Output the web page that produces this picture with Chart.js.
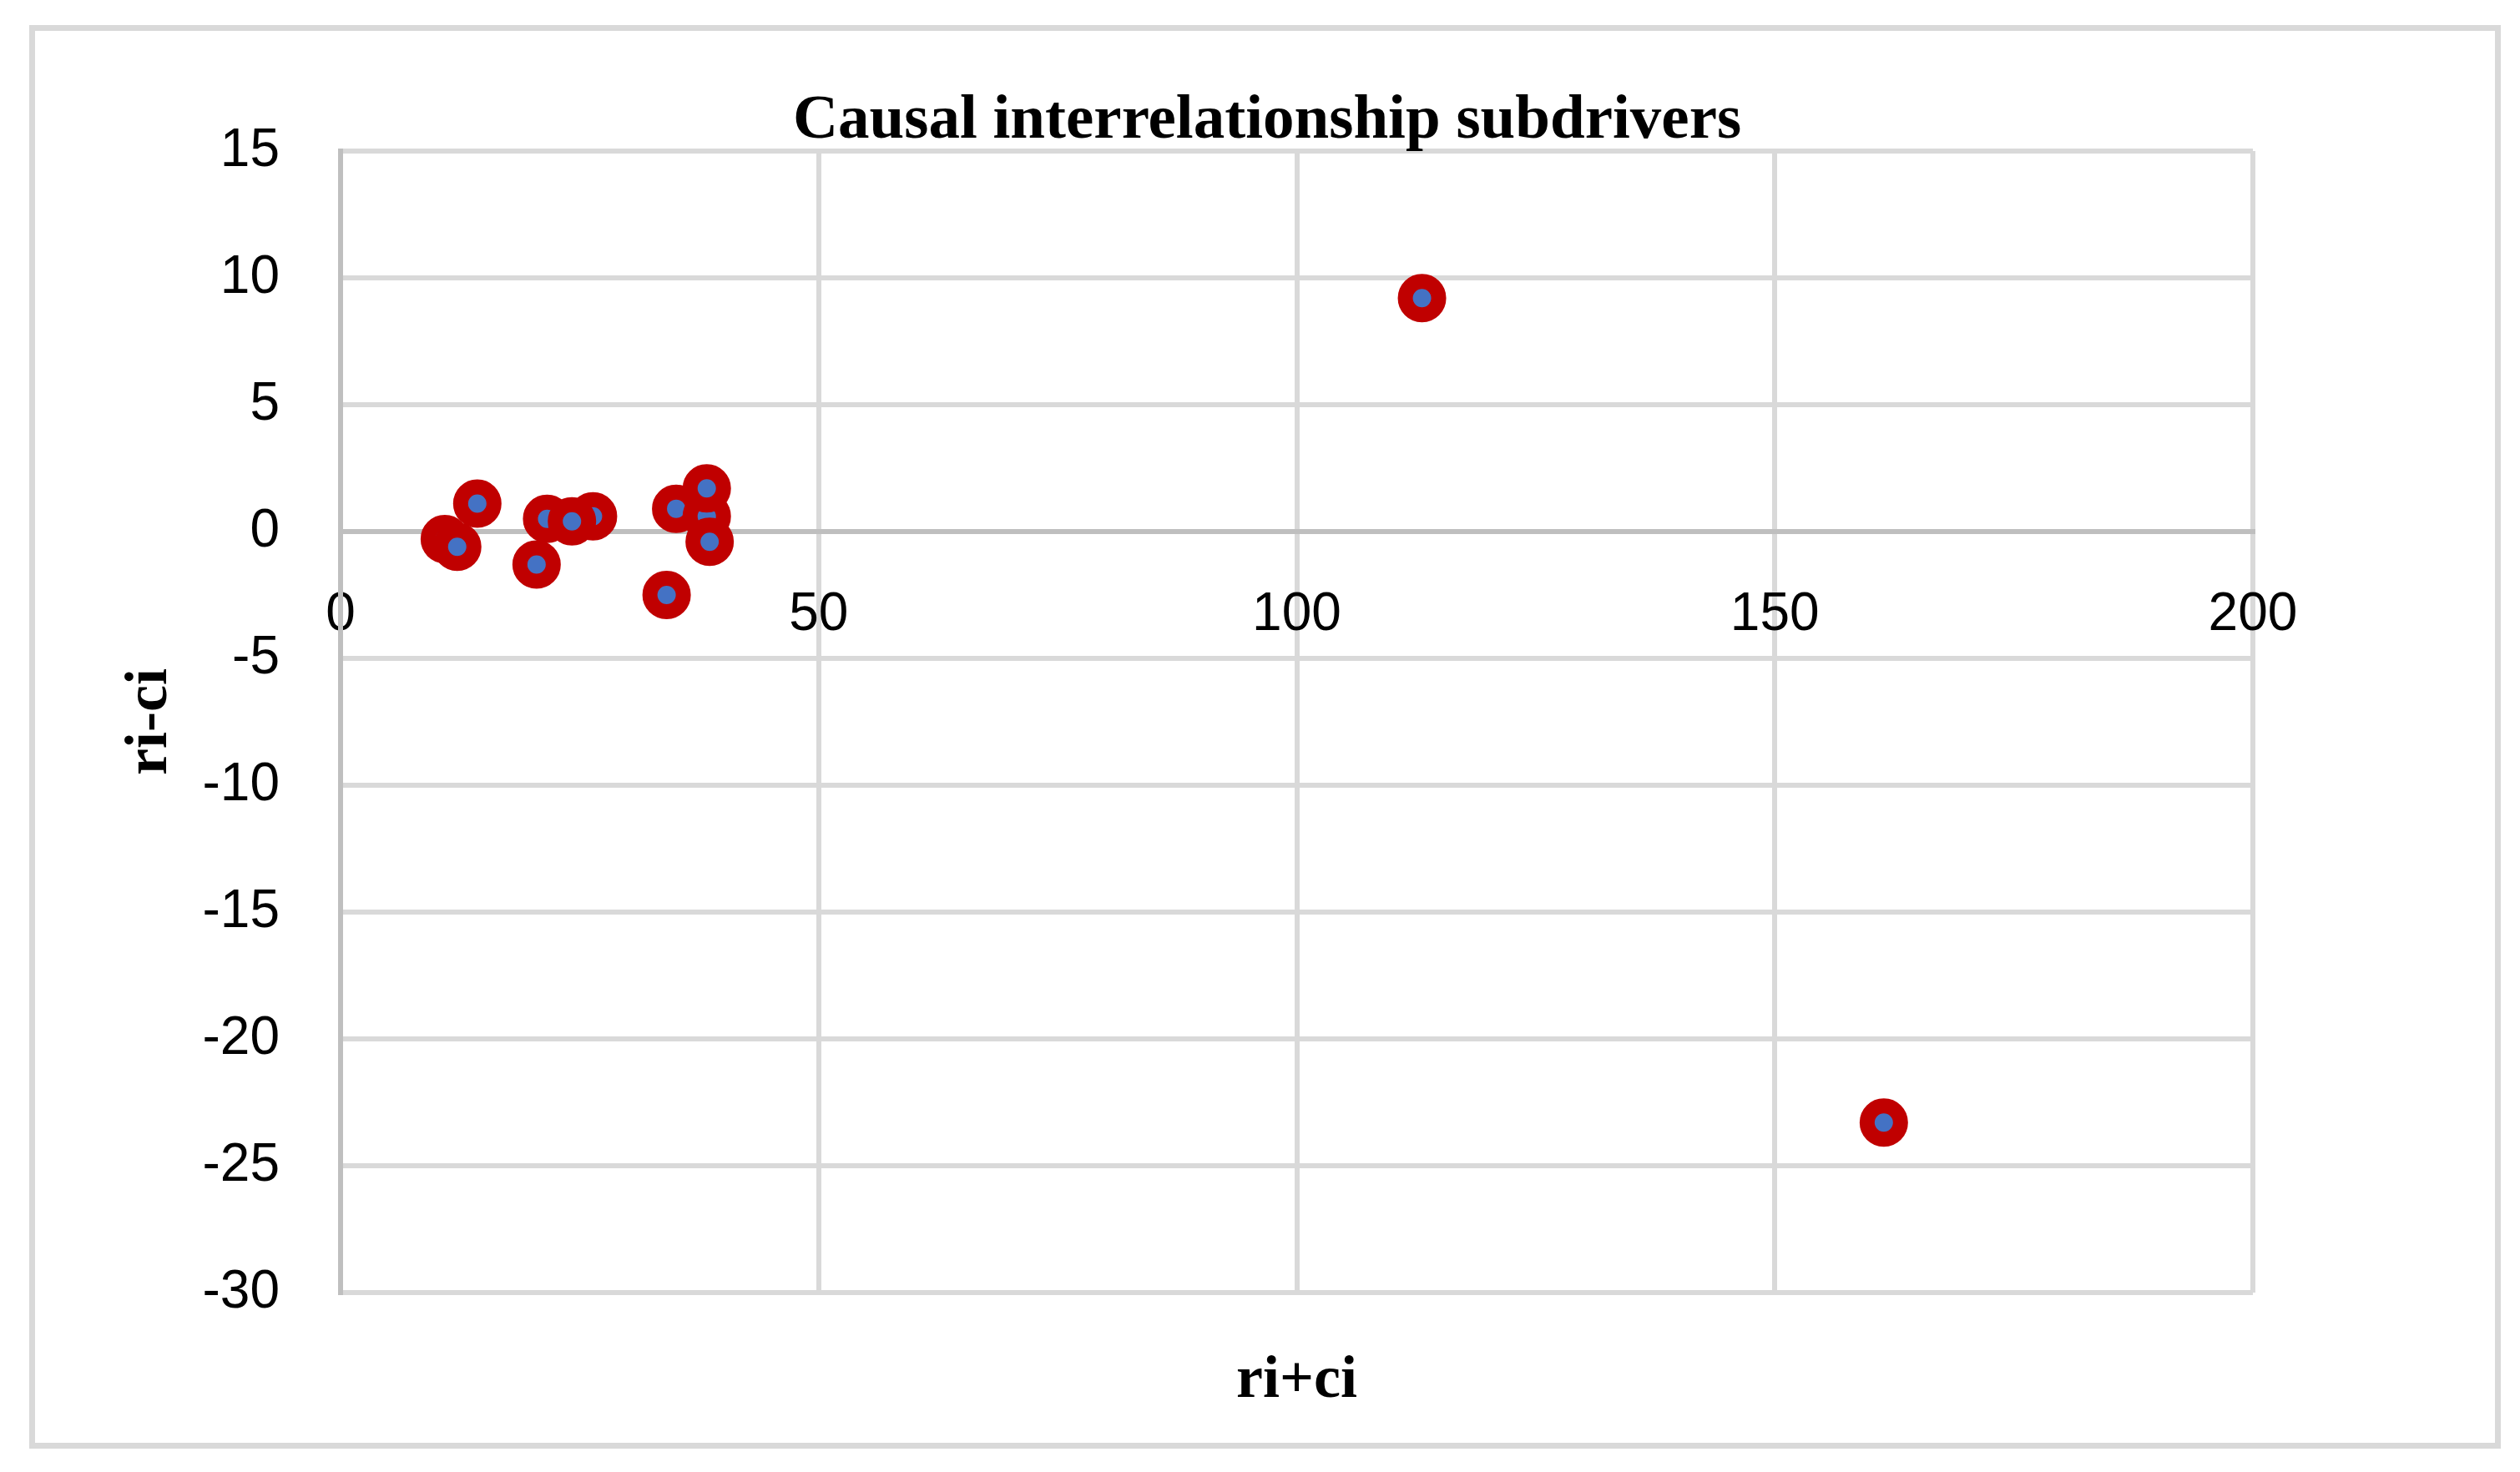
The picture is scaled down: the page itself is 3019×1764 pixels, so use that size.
<!DOCTYPE html>
<html>
<head>
<meta charset="utf-8">
<script src="https://cdn.jsdelivr.net/npm/chart.js@4"></script>
<style>
  html, body { margin: 0; padding: 0; background: #ffffff; overflow: hidden; }
  #wrap { position: relative; width: 3019px; height: 1764px; }
  #frame { position: absolute; left: 35px; top: 30px; width: 2961px; height: 1706px;
           border: 7px solid #d9d9d9; box-sizing: border-box; pointer-events: none; }
  canvas { position: absolute; left: 0; top: 0; }
</style>
</head>
<body>
<div id="wrap">
  <canvas id="c" width="3019" height="1764"></canvas>
  <div id="frame"></div>
</div>
<script>
// ---- data ----
const chartTitle = "Causal interrelationship subdrivers";
const xAxisTitle = "ri+ci";
const yAxisTitle = "ri-ci";
const riPlusCi  = [10.9, 12.2, 14.3, 20.5, 26.4, 21.6, 24.2, 34.1, 35.1, 38.3, 38.3, 38.6, 113.1, 161.4];
const riMinusCi = [-0.3, -0.6, 1.1, -1.3, 0.6, 0.5, 0.4, -2.5, 0.9, 0.6, 1.7, -0.4, 9.2, -23.3];
const xTicks = [0, 50, 100, 150, 200];
const yTicks = [15, 10, 5, 0, -5, -10, -15, -20, -25, -30];

const points = riPlusCi.map((x, i) => ({ x: x, y: riMinusCi[i] }));

const GRID = '#d9d9d9';
const AXIS = '#bfbfbf';
const tickFont = { family: 'Liberation Sans', size: 64 };

new Chart(document.getElementById('c'), {
  type: 'scatter',
  data: {
    datasets: [{
      data: points,
      xAxisID: 'x',
      yAxisID: 'y',
      pointRadius: 20,
      pointHoverRadius: 20,
      pointBorderWidth: 18,
      pointHoverBorderWidth: 18,
      pointBackgroundColor: '#4472c4',
      pointBorderColor: '#c00000',
      showLine: false
    }]
  },
  options: {
    responsive: false,
    animation: false,
    events: [],
    layout: { padding: { left: 50, right: 33, top: 0, bottom: 0 } },
    plugins: {
      legend: { display: false },
      tooltip: { enabled: false },
      title: {
        display: true,
        text: chartTitle,
        color: '#000000',
        font: { family: 'Liberation Serif', size: 75, weight: 'bold', lineHeight: 0.9 },
        padding: { top: 112, bottom: 1.5 }
      }
    },
    scales: {
      x: {
        type: 'linear',
        position: { y: 0 },
        min: 0, max: 200,
        afterBuildTicks: s => { s.ticks = xTicks.map(v => ({ value: v })); },
        ticks: { font: tickFont, color: '#000000', padding: 62, maxRotation: 0 },
        grid: {
          drawTicks: false,
          lineWidth: 6,
          color: ctx => (ctx.tick && ctx.tick.value === 0) ? AXIS : GRID
        },
        border: { display: true, color: AXIS, width: 6 }
      },
      x2: {
        type: 'linear',
        axis: 'x',
        position: 'bottom',
        min: 0, max: 200,
        ticks: { display: false },
        grid: { display: false, drawTicks: false },
        border: { display: false },
        title: {
          display: true,
          text: xAxisTitle,
          color: '#000000',
          font: { family: 'Liberation Serif', size: 72, weight: 'bold', lineHeight: 1.0 },
          padding: { top: 0, bottom: 73 }
        },
        afterFit: s => { s.height = 215; }
      },
      y: {
        type: 'linear',
        position: 'left',
        min: -30, max: 15,
        afterBuildTicks: s => { s.ticks = yTicks.map(v => ({ value: v })); },
        ticks: { font: tickFont, color: '#000000', padding: 73 },
        grid: {
          drawTicks: false,
          lineWidth: 6,
          color: ctx => (ctx.tick && ctx.tick.value === 0) ? AXIS : GRID
        },
        border: { display: true, color: AXIS, width: 6 },
        title: {
          display: true,
          text: yAxisTitle,
          color: '#000000',
          font: { family: 'Liberation Serif', size: 72, weight: 'bold', lineHeight: 1.0 },
          padding: { top: 94, bottom: 0 }
        },
        afterFit: s => { s.width = 358; }
      },
      yr: {
        type: 'linear',
        axis: 'y',
        position: 'right',
        ticks: { display: false },
        grid: { display: false, drawTicks: false },
        border: { display: false },
        afterFit: s => { s.width = 287; }
      }
    }
  }
});
</script>
</body>
</html>
